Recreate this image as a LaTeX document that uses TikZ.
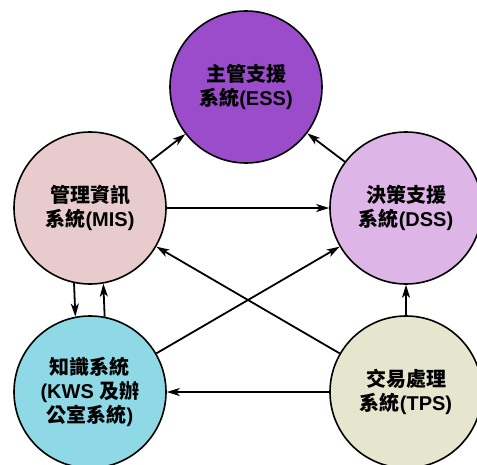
\documentclass[tikz,border=0pt]{standalone}
\usepackage{fontspec}
\setmainfont{Liberation Sans}
\newfontfamily\cjk{Noto Sans CJK TC}
\usetikzlibrary{arrows.meta}
\definecolor{essc}{HTML}{9A4CCB}
\definecolor{misc}{HTML}{E8CBCC}
\definecolor{dssc}{HTML}{DDB5E6}
\definecolor{kwsc}{HTML}{8FD9E6}
\definecolor{tpsc}{HTML}{E6E5CD}
\begin{document}
\begin{tikzpicture}[x=1pt,y=-1pt,
  sys/.style={circle, draw, line width=1.6pt, minimum size=152pt, inner sep=0pt,
    align=center, font=\bfseries\fontsize{20}{24}\selectfont},
  conn/.style={line width=1.8pt, -{Stealth[length=13pt,width=8pt,inset=3.5pt]}}]
\useasboundingbox (0,0) rectangle (477,464);
\node[sys, fill=essc] (ess) at (246,87) {{\cjk 主管支援}\\{\cjk 系統}(ESS)};
\node[sys, fill=misc] (mis) at (90,208) {{\cjk 管理資訊}\\{\cjk 系統}(MIS)};
\node[sys, fill=dssc] (dss) at (406,208) {{\cjk 決策支援}\\{\cjk 系統}(DSS)};
\node[sys, fill=kwsc] (kws) at (90,392) {{\cjk 知識系統}\\(KWS {\cjk 及辦}\\{\cjk 公室系統})};
\node[sys, fill=tpsc] (tps) at (406,392) {{\cjk 交易處理}\\{\cjk 系統}(TPS)};
\draw[conn] (mis) -- (ess);
\draw[conn] (dss) -- (ess);
\draw[conn] (mis) -- (dss);
\draw[conn] (tps) -- (mis);
\draw[conn] (kws) -- (dss);
\draw[conn] (tps) -- (kws);
\draw[conn] (tps) -- (dss);
\draw[conn] (mis.258.6) -- (kws.101.4);
\draw[conn] (kws.79.4) -- (mis.280.6);
\end{tikzpicture}
\end{document}
